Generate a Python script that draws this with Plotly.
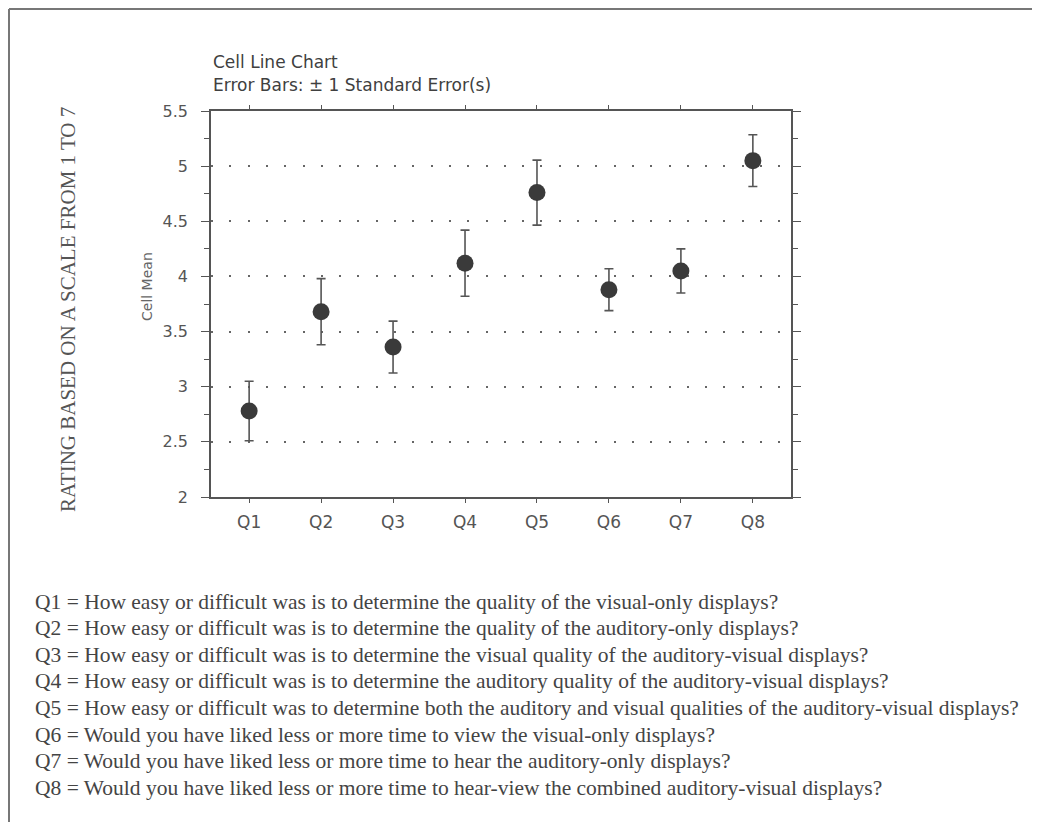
import plotly.graph_objects as go

# data
questions = ["Q1", "Q2", "Q3", "Q4", "Q5", "Q6", "Q7", "Q8"]
cell_means = [2.78, 3.68, 3.36, 4.12, 4.76, 3.88, 4.05, 5.05]
std_errors = [0.27, 0.30, 0.235, 0.30, 0.295, 0.19, 0.20, 0.235]

y_ticks = [2, 2.5, 3, 3.5, 4, 4.5, 5, 5.5]
y_ticktext = ["2", "2.5", "3", "3.5", "4", "4.5", "5", "5.5"]

footnotes = [
    "Q1 = How easy or difficult was is to determine the quality of the visual-only displays?",
    "Q2 = How easy or difficult was is to determine the quality of the auditory-only displays?",
    "Q3 = How easy or difficult was is to determine the visual quality of the auditory-visual displays?",
    "Q4 = How easy or difficult was is to determine the auditory quality of the auditory-visual displays?",
    "Q5 = How easy or difficult was to determine both the auditory and visual qualities of the auditory-visual displays?",
    "Q6 = Would you have liked less or more time to view the visual-only displays?",
    "Q7 = Would you have liked less or more time to hear the auditory-only displays?",
    "Q8 = Would you have liked less or more time to hear-view the combined auditory-visual displays?",
]

# the page body has an 8px margin, so the figure sits at (8, 8)
OFF = 8
W, H = 1040 - 2 * OFF, 830 - 2 * OFF
# plot box in page pixels
L, R, T, B = 211, 791, 111, 497


def px(x):
    return (x - L) / (R - L)


def py(y):
    return (B - y) / (B - T)


fig = go.Figure()

fig.add_trace(go.Scatter(
    x=questions, y=cell_means, mode="markers",
    marker=dict(size=17, color="#3a3a3a"),
    error_y=dict(type="data", array=std_errors, visible=True,
                 color="#555555", thickness=1.6, width=4.5),
    showlegend=False,
))

sans = "DejaVu Sans, Arial"
serif = "Liberation Serif, Times New Roman"
axis_col = "#555555"
fig.update_xaxes(
    type="category", range=[-0.53, 7.53],
    showline=True, linecolor=axis_col, linewidth=1.5, mirror="allticks",
    ticks="outside", ticklen=4, tickcolor=axis_col, tickwidth=1,
    showgrid=False, zeroline=False,
    tickfont=dict(family=sans, size=17, color="#555555"),
    ticklabelstandoff=5,
)
fig.update_yaxes(
    range=[2, 5.5], tickvals=y_ticks, ticktext=y_ticktext,
    showline=True, linecolor=axis_col, linewidth=1.5, mirror="allticks",
    ticks="outside", ticklen=8, tickcolor=axis_col, tickwidth=1,
    minor=dict(dtick=0.25, ticks="outside", ticklen=5, tickcolor=axis_col, showgrid=False),
    showgrid=True, gridcolor="#666666", gridwidth=1.5, griddash="2px,16.3px",
    zeroline=False,
    tickfont=dict(family=sans, size=16, color="#555555"),
    ticklabelstandoff=10,
)

ann = []
title_font = dict(family=sans, size=17, color="#404040")
ann.append(dict(text="Cell Line Chart", x=px(211), y=py(62), xanchor="left", yanchor="middle",
                font=title_font))
ann.append(dict(text="Error Bars: \u00b1 1 Standard Error(s)", x=px(211), y=py(85),
                xanchor="left", yanchor="middle", font=title_font))
ann.append(dict(text="Cell Mean", x=px(147), y=py(287), textangle=-90, xanchor="center",
                yanchor="middle", font=dict(family=sans, size=14, color="#666666")))
ann.append(dict(text="RATING BASED ON A SCALE FROM 1 TO 7", x=px(68), y=py(310), textangle=-90,
                xanchor="center", yanchor="middle",
                font=dict(family=serif, size=21, color="#555555")))
for i, line in enumerate(footnotes):
    ann.append(dict(text=line, x=px(33), y=py(601.5 + i * 26.6), xanchor="left", yanchor="middle",
                    font=dict(family=serif, size=21.5, color="#444444")))
for a in ann:
    a.update(xref="paper", yref="paper", showarrow=False)

# page frame lines (top and left)
frame = dict(type="line", xref="paper", yref="paper", line=dict(color="#777777", width=2))
shapes = [
    dict(frame, x0=px(OFF + 1), x1=px(W + OFF), y0=py(OFF + 1), y1=py(OFF + 1)),
    dict(frame, x0=px(OFF + 1), x1=px(OFF + 1), y0=py(OFF + 1), y1=py(H + OFF)),
]

fig.update_layout(
    width=W, height=H,
    margin=dict(l=L - OFF, r=W + OFF - R, t=T - OFF, b=H + OFF - B),
    paper_bgcolor="white", plot_bgcolor="white",
    annotations=ann, shapes=shapes,
)

fig.write_html("out.html")
